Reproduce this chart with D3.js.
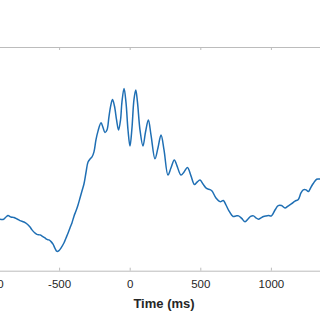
<!DOCTYPE html>
<html>
<head>
<meta charset="utf-8">
<script src="https://cdn.jsdelivr.net/npm/d3@7"></script>
<style>
  body { margin: 0; background: #fff; }
  svg { display: block; font-family: "Liberation Sans", Arial, sans-serif; }
</style>
</head>
<body>
<svg id="chart"></svg>
<script>
// time in ms, amplitude (arbitrary units)
var timeMs = [-954, -919, -897, -876, -862, -841, -819, -798, -777, -749, -727, -706, -692, -671, -657, -635,
  -621, -600, -586, -572, -557, -543, -529, -515, -501, -487, -465, -451, -437, -423, -409, -394,
  -380, -366, -352, -338, -324, -309, -295, -278, -267, -253, -239, -224, -203, -189, -175, -161,
  -147, -136, -122, -108, -93, -79, -65, -55, -40, -26, -12, 2, 16, 30, 43, 55,
  73, 94, 112, 132, 151, 179, 200, 222, 243, 271, 292, 316, 335, 363, 385, 409,
  434, 459, 477, 498, 519, 544, 569, 583, 611, 640, 663, 682, 703, 732, 753, 771,
  793, 817, 838, 856, 877, 894, 912, 930, 948, 965, 983, 1004, 1029, 1052, 1075, 1100,
  1121, 1147, 1171, 1194, 1213, 1229, 1249, 1265, 1284, 1300, 1324, 1348, 1383];
var amplitude = [-1.17, -1.16, -1.17, -1.08, -1.03, -1.08, -1.10, -1.15, -1.21, -1.26, -1.33, -1.44, -1.54, -1.65, -1.70, -1.72,
  -1.76, -1.83, -1.88, -1.90, -1.96, -2.05, -2.20, -2.31, -2.28, -2.19, -2.00, -1.83, -1.66, -1.47, -1.29, -1.04,
  -0.86, -0.65, -0.40, -0.15, 0.10, 0.53, 0.89, 1.01, 1.07, 1.25, 1.68, 2.00, 2.29, 2.12, 1.94, 2.03,
  2.50, 2.86, 3.12, 2.89, 2.39, 2.03, 2.39, 3.03, 3.52, 3.00, 2.03, 1.46, 2.10, 3.11, 3.46, 3.03,
  2.03, 1.46, 1.96, 2.39, 1.85, 1.00, 1.39, 1.85, 1.32, 0.42, 0.67, 0.96, 0.75, 0.42, 0.53, 0.69,
  0.39, 0.08, 0.17, 0.24, 0.10, -0.06, -0.10, -0.15, -0.40, -0.53, -0.49, -0.65, -0.86, -1.06, -1.04, -1.04,
  -1.13, -1.25, -1.15, -1.06, -1.04, -1.11, -1.16, -1.11, -1.06, -1.04, -1.03, -1.04, -0.83, -0.67, -0.67, -0.76,
  -0.69, -0.60, -0.51, -0.45, -0.22, -0.11, -0.11, -0.17, -0.01, 0.12, 0.27, 0.28, 0.35];
var xTicks = [-1000, -500, 0, 500, 1000, 1500];
var xLabel = "Time (ms)";

var width = 320, height = 320;
var plotLeft = -11.5, plotRight = 341.5, plotTop = 47, plotBottom = 270.7;
var axisColor = "#bcbcbc";

var svg = d3.select("#chart")
  .attr("width", width)
  .attr("height", height);

var x = d3.scaleLinear().domain([-1000, 1500]).range([plotLeft, plotRight]);
var y = d3.scaleLinear().domain([-3, 5]).range([plotBottom, plotTop]);

var points = timeMs.map(function(t, i) { return [t, amplitude[i]]; });

// bottom axis, ticks pointing in
var bottomAxis = svg.append("g")
  .attr("transform", "translate(0," + plotBottom + ")")
  .call(d3.axisBottom(x).tickValues(xTicks).tickSizeInner(-3).tickSizeOuter(0).tickPadding(9)
    .tickFormat(function(d) { return String(d); }));
bottomAxis.select(".domain").attr("stroke", axisColor);
bottomAxis.selectAll(".tick line").attr("stroke", axisColor);
bottomAxis.selectAll(".tick text")
  .attr("fill", "#262626")
  .attr("font-size", "11.5px")
  .attr("font-family", "\"Liberation Sans\", Arial, sans-serif");

// top box edge
var topAxis = svg.append("g")
  .attr("transform", "translate(0," + plotTop + ")")
  .call(d3.axisTop(x).tickValues(xTicks).tickSizeInner(-3).tickSizeOuter(0).tickFormat(""));
topAxis.select(".domain").attr("stroke", axisColor);
topAxis.selectAll(".tick line").attr("stroke", axisColor);

var line = d3.line()
  .x(function(d) { return x(d[0]); })
  .y(function(d) { return y(d[1]); })
  .curve(d3.curveCatmullRom.alpha(0.5));

svg.append("path")
  .datum(points)
  .attr("fill", "none")
  .attr("stroke", "#1f6fb4")
  .attr("stroke-width", 1.5)
  .attr("stroke-linejoin", "round")
  .attr("d", line);

svg.append("text")
  .attr("x", (plotLeft + plotRight) / 2 - 1)
  .attr("y", 307.5)
  .attr("text-anchor", "middle")
  .attr("font-size", "13px")
  .attr("font-weight", "bold")
  .attr("fill", "#262626")
  .text(xLabel);
</script>
</body>
</html>
